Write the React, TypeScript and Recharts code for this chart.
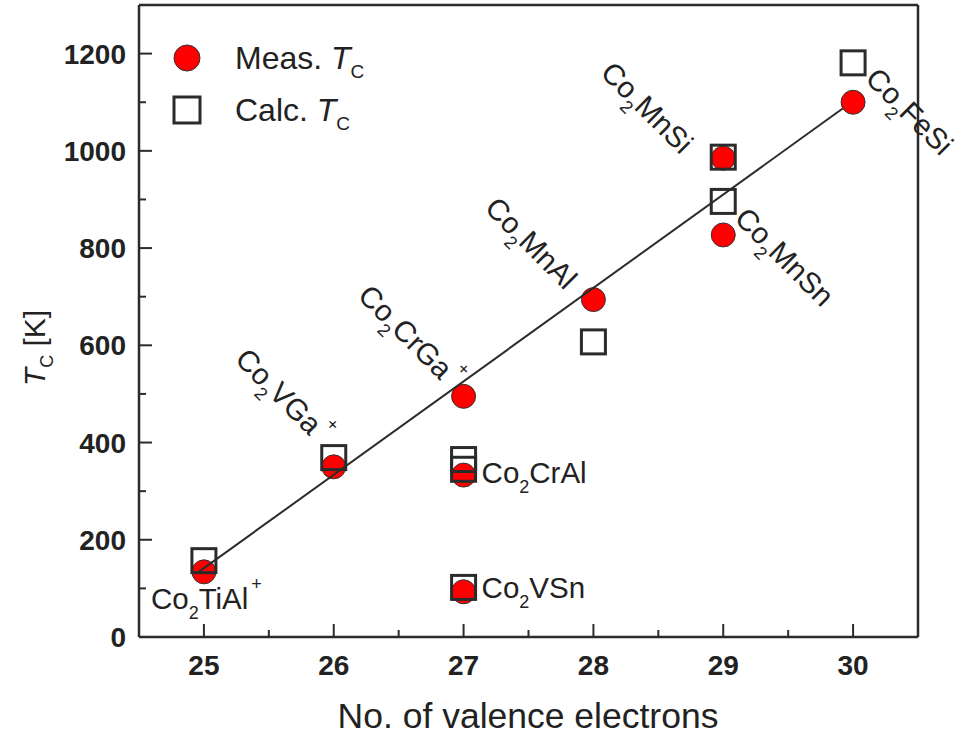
import React from "react";
import { ScatterChart, Scatter, XAxis, YAxis, Legend } from "recharts";

const compounds = ["Co2TiAl", "Co2VGa", "Co2CrGa", "Co2CrAl", "Co2VSn", "Co2MnAl", "Co2MnSi", "Co2MnSn", "Co2FeSi"];
const valence = [25, 26, 27, 27, 27, 28, 29, 29, 30];
const measTc = [134, 350, 495, 333, 93, 694, 985, 827, 1100];

const calcValence = [25, 26, 27, 27, 27, 28, 29, 29, 30];
const calcTc = [157, 369, 365, 345, 102, 607, 987, 896, 1181];

const fitValence = [24.96, 29.92];
const fitTc = [134, 1087];

const plusMarked = ["Co2TiAl", "Co2VGa", "Co2CrGa"];

const xTicks = [25, 25.5, 26, 26.5, 27, 27.5, 28, 28.5, 29, 29.5, 30];
const xLabels = [25, 26, 27, 28, 29, 30];
const yTicks = [0, 100, 200, 300, 400, 500, 600, 700, 800, 900, 1000, 1100, 1200];
const yLabels = [0, 200, 400, 600, 800, 1000, 1200];

const meas = valence.map((x, i) => ({ x, y: measTc[i], name: compounds[i] }));
const calc = calcValence.map((x, i) => ({ x, y: calcTc[i] }));
const fit = fitValence.map((x, i) => ({ x, y: fitTc[i] }));

const FONT = "Liberation Sans, Arial, Helvetica, sans-serif";
const INK = "#2b2b2b";

// pixel offsets of each label from its measured point
const labelLayout: Record<string, { dx: number; dy: number; rot: number }> = {
  Co2TiAl: { dx: -53, dy: 37, rot: 0 },
  Co2VGa: { dx: -100, dy: -106, rot: 45 },
  Co2CrGa: { dx: -107, dy: -99, rot: 45 },
  Co2CrAl: { dx: 18, dy: 8, rot: 0 },
  Co2VSn: { dx: 18, dy: 6, rot: 0 },
  Co2MnAl: { dx: -110, dy: -90, rot: 45 },
  Co2MnSi: { dx: -124, dy: -84, rot: 45 },
  Co2MnSn: { dx: 10, dy: -15, rot: 45 },
  Co2FeSi: { dx: 11, dy: -22, rot: 45 },
};

const isMajor = (v: number, list: number[]) => list.includes(v);

const BottomTick = (p: any) => {
  const v = p.payload.value;
  const major = isMajor(v, xLabels);
  return (
    <g>
      <line x1={p.x} x2={p.x} y1={p.y} y2={p.y - (major ? 13 : 7)} stroke={INK} strokeWidth={2} />
      {major && (
        <text x={p.x} y={p.y + 38} textAnchor="middle" fontSize={28} fontWeight="bold" fill="#222" fontFamily={FONT}>
          {v}
        </text>
      )}
    </g>
  );
};

const TopTick = (p: any) => {
  const major = isMajor(p.payload.value, xLabels);
  return <line x1={p.x} x2={p.x} y1={p.y} y2={p.y + (major ? 13 : 7)} stroke={INK} strokeWidth={2} />;
};

const LeftTick = (p: any) => {
  const v = p.payload.value;
  const major = isMajor(v, yLabels);
  return (
    <g>
      <line x1={p.x} x2={p.x + (major ? 13 : 7)} y1={p.y} y2={p.y} stroke={INK} strokeWidth={2} />
      {major && (
        <text x={p.x - 13} y={p.y + 10} textAnchor="end" fontSize={28} fontWeight="bold" fill="#222" fontFamily={FONT}>
          {v}
        </text>
      )}
    </g>
  );
};

const RightTick = (p: any) => {
  const major = isMajor(p.payload.value, yLabels);
  return <line x1={p.x} x2={p.x - (major ? 13 : 7)} y1={p.y} y2={p.y} stroke={INK} strokeWidth={2} />;
};

const MeasDot = (p: any) => <circle cx={p.cx} cy={p.cy} r={12} fill="#ff0000" stroke="#333" strokeWidth={1} />;

const CalcSquare = (p: any) => (
  <rect x={p.cx - 12} y={p.cy - 12} width={24} height={24} fill="none" stroke={INK} strokeWidth={3} />
);

const CompoundLabel = (p: any) => {
  const name: string = p.payload.name;
  const l = labelLayout[name];
  const ax = p.cx + l.dx;
  const ay = p.cy + l.dy;
  return (
    <text
      x={ax}
      y={ay}
      fontSize={29.5}
      fill="#222"
      fontFamily={FONT}
      transform={l.rot ? `rotate(${l.rot} ${ax} ${ay})` : undefined}
    >
      <tspan>{name.slice(0, 2)}</tspan>
      <tspan fontSize={18} dy={10}>{name.slice(2, 3)}</tspan>
      <tspan dy={-10}>{name.slice(3)}</tspan>
      {plusMarked.includes(name) && (
        <tspan fontSize={18} dx={3} dy={-19}>+</tspan>
      )}
    </text>
  );
};

const renderLegend = () => (
  <svg width={260} height={110} style={{ display: "block" }}>
    <circle cx={27} cy={28} r={13} fill="#ff0000" stroke="#333" strokeWidth={1} />
    <rect x={14} y={67} width={26} height={26} fill="none" stroke={INK} strokeWidth={3} />
    <text x={75} y={39} fontSize={32} fill="#222" fontFamily={FONT}>
      Meas. <tspan fontStyle="italic">T</tspan>
      <tspan fontSize={19} dy={9}>C</tspan>
    </text>
    <text x={75} y={91} fontSize={32} fill="#222" fontFamily={FONT}>
      Calc. <tspan fontStyle="italic">T</tspan>
      <tspan fontSize={19} dy={9}>C</tspan>
    </text>
  </svg>
);

export default function App() {
  const axisLine = { stroke: INK, strokeWidth: 2.5 };
  return (
    <div style={{ position: "absolute", left: 0, top: 0, background: "#fff" }}>
      <ScatterChart width={957} height={737} margin={{ top: 4, right: 38, bottom: 99, left: 138 }}>
        <XAxis
          xAxisId="b"
          type="number"
          dataKey="x"
          domain={[24.5, 30.5]}
          ticks={xTicks}
          interval={0}
          tick={<BottomTick />}
          tickLine={false}
          tickSize={0}
          tickMargin={0}
          height={1}
          axisLine={axisLine}
        />
        <XAxis
          xAxisId="t"
          orientation="top"
          type="number"
          domain={[24.5, 30.5]}
          ticks={xTicks}
          interval={0}
          tick={<TopTick />}
          tickLine={false}
          tickSize={0}
          tickMargin={0}
          height={1}
          axisLine={axisLine}
        />
        <YAxis
          yAxisId="l"
          type="number"
          dataKey="y"
          domain={[0, 1300]}
          ticks={yTicks}
          interval={0}
          tick={<LeftTick />}
          tickLine={false}
          tickSize={0}
          tickMargin={0}
          width={1}
          axisLine={axisLine}
        />
        <YAxis
          yAxisId="r"
          orientation="right"
          type="number"
          domain={[0, 1300]}
          ticks={yTicks}
          interval={0}
          tick={<RightTick />}
          tickLine={false}
          tickSize={0}
          tickMargin={0}
          width={1}
          axisLine={axisLine}
        />
        <Legend
          layout="horizontal"
          verticalAlign="middle"
          align="center"
          content={renderLegend}
          wrapperStyle={{ left: 160, top: 30, width: 260, height: 110 }}
        />
        <Scatter name="Meas. TC" xAxisId="b" yAxisId="l" data={meas} shape={<MeasDot />} isAnimationActive={false} />
        <Scatter name="Calc. TC" xAxisId="b" yAxisId="l" data={calc} shape={<CalcSquare />} isAnimationActive={false} />
        <Scatter
          name="fit"
          xAxisId="b"
          yAxisId="l"
          data={fit}
          line={{ stroke: INK, strokeWidth: 2 }}
          shape={() => <g />}
          isAnimationActive={false}
          legendType="none"
        />
        <Scatter
          name="labels"
          xAxisId="b"
          yAxisId="l"
          data={meas}
          shape={<CompoundLabel />}
          isAnimationActive={false}
          legendType="none"
        />
      </ScatterChart>
      <div
        style={{
          position: "absolute",
          left: 328,
          top: 696,
          fontFamily: FONT,
          fontSize: 35.5,
          color: "#222",
          width: 400,
          textAlign: "center",
          whiteSpace: "nowrap",
          lineHeight: "40px",
        }}
      >
        No. of valence electrons
      </div>
      <svg width={60} height={200} style={{ position: "absolute", left: 0, top: 250 }}>
        <text
          x={45}
          y={98}
          transform="rotate(-90 45 98)"
          textAnchor="middle"
          fontSize={30}
          fill="#222"
          fontFamily={FONT}
        >
          <tspan fontStyle="italic">T</tspan>
          <tspan fontSize={18} dy={8}>C</tspan>
          <tspan dy={-8}> [K]</tspan>
        </text>
      </svg>
    </div>
  );
}
